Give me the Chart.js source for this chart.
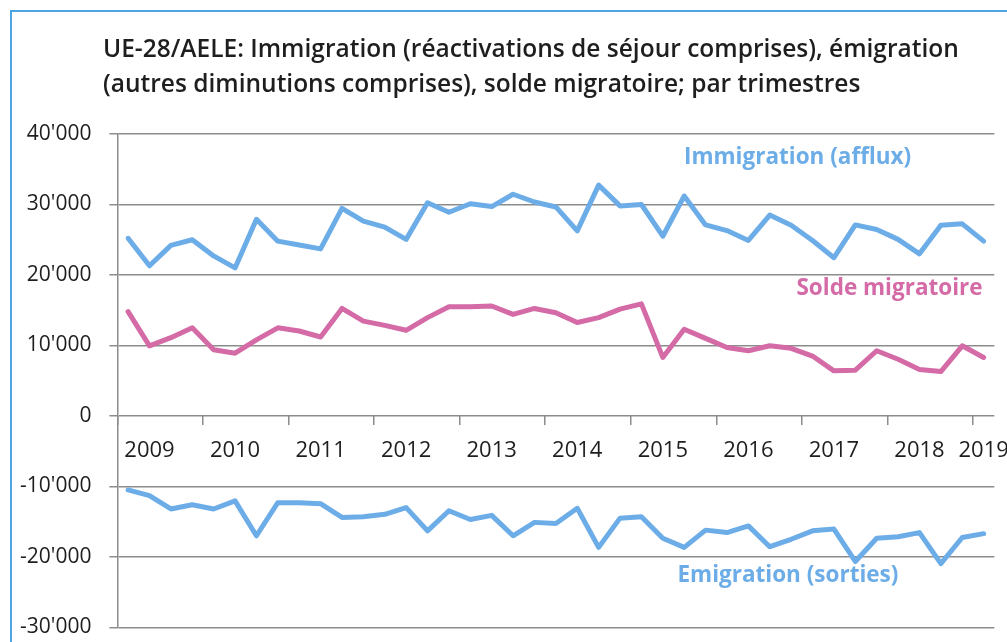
<!DOCTYPE html>
<html>
<head>
<meta charset="utf-8">
<script src="https://cdn.jsdelivr.net/npm/chart.js@4"></script>
<style>
  body { margin: 0; background: #fff; }
  #wrap { position: relative; width: 1007px; height: 642px; overflow: hidden; }
  #frame { position: absolute; left: 10px; top: 10px; right: -5px; bottom: -5px;
           border-top: 2px solid #4ea3e3; border-left: 2px solid #4ea3e3; z-index: 2; }
  #titre { position: absolute; left: 103px; top: 30px; font-family: "Open Sans", sans-serif;
           font-weight: 600; font-size: 24.5px; line-height: 35px; color: #1e1e1e; white-space: nowrap; }
  #c { position: absolute; left: 0; top: 0; }
</style>
</head>
<body>
<div id="wrap">
  <div id="frame"></div>
  <canvas id="c" width="1022" height="658"></canvas>
  <div id="titre">UE-28/AELE: Immigration (réactivations de séjour comprises), émigration<br>(autres diminutions comprises), solde migratoire; par trimestres</div>
</div>
<script>
// trimestres 2009 T1 - 2019 T1
const annees = [2009, 2010, 2011, 2012, 2013, 2014, 2015, 2016, 2017, 2018, 2019];
const trimestres = [];
annees.forEach(function (a) {
  for (let q = 1; q <= 4; q++) {
    if (a === 2019 && q > 1) break;
    trimestres.push(a + " T" + q);
  }
});

const immigration = [
  25200, 21300, 24200, 25000, 22700, 21000, 27900, 24800, 24250, 23700,
  29450, 27650, 26800, 25050, 30250, 28900, 30100, 29700, 31450, 30350,
  29650, 26250, 32750, 29800, 30000, 25500, 31200, 27100, 26300, 24900,
  28500, 27050, 24900, 22450, 27100, 26450, 25050, 23000, 27050, 27250,
  24800
];
const solde = [
  14800, 9950, 11100, 12500, 9400, 8900, 10800, 12500, 12050, 11200,
  15250, 13450, 12850, 12150, 13950, 15500, 15500, 15600, 14400, 15250,
  14650, 13250, 13950, 15150, 15900, 8300, 12300, 11000, 9700, 9250,
  9950, 9600, 8500, 6400, 6500, 9250, 8050, 6600, 6300, 9950,
  8300
];
const emigration = [
  -10500, -11300, -13200, -12600, -13200, -12050, -17000, -12300, -12300, -12450,
  -14400, -14300, -13950, -13000, -16300, -13450, -14700, -14100, -17000, -15100,
  -15250, -13100, -18650, -14500, -14300, -17350, -18650, -16200, -16550, -15600,
  -18550, -17500, -16300, -16050, -20650, -17350, -17150, -16550, -20950, -17250,
  -16700
];

const bleu = "#6cade8";
const rose = "#d46aa6";

// étiquettes des séries, placées dans le repère du graphique
const etiquettes = [
  { texte: "Immigration (afflux)", couleur: bleu, x: 31.3, y: 36700 },
  { texte: "Solde migratoire", couleur: rose, x: 35.6, y: 18000 },
  { texte: "Emigration (sorties)", couleur: bleu, x: 30.85, y: -22700 }
];

const pluginEtiquettes = {
  id: "etiquettes",
  afterDatasetsDraw: function (chart) {
    const ctx = chart.ctx;
    const sx = chart.scales.x;
    const sy = chart.scales.y;
    ctx.save();
    ctx.font = "bold 22.5px 'Open Sans'";
    ctx.textAlign = "center";
    ctx.textBaseline = "middle";
    etiquettes.forEach(function (e) {
      ctx.fillStyle = e.couleur;
      ctx.fillText(e.texte, sx.getPixelForValue(e.x), sy.getPixelForValue(e.y));
    });
    ctx.restore();
  }
};

const gris = "#8c8c8c";

new Chart(document.getElementById("c"), {
  type: "line",
  data: {
    labels: trimestres,
    datasets: [
      { label: "Immigration (afflux)", data: immigration, borderColor: bleu },
      { label: "Solde migratoire", data: solde, borderColor: rose },
      { label: "Emigration (sorties)", data: emigration, borderColor: bleu }
    ]
  },
  options: {
    responsive: false,
    animation: false,
    layout: { padding: { top: 134, left: 2, right: 17, bottom: 4 } },
    elements: {
      line: { borderWidth: 5, tension: 0, borderJoinStyle: "round", borderCapStyle: "round", fill: false },
      point: { radius: 0 }
    },
    plugins: {
      legend: { display: false },
      tooltip: { enabled: false }
    },
    scales: {
      x: {
        position: { y: 0 },
        offset: true,
        grid: {
          offset: true,
          drawOnChartArea: false,
          drawTicks: true,
          tickLength: 9,
          lineWidth: 1.5,
          color: function (c) { return c.index % 4 === 0 ? gris : "rgba(0,0,0,0)"; }
        },
        border: { display: false },
        ticks: {
          autoSkip: false,
          maxRotation: 0,
          padding: 13,
          color: "#1e1e1e",
          font: { family: "Open Sans", size: 22 },
          callback: function (v, i) {
            const lab = trimestres[i];
            if (lab.endsWith("T2") || lab === "2019 T1") return lab.slice(0, 4);
            return "";
          }
        }
      },
      y: {
        min: -30000,
        max: 40000,
        grid: { color: gris, lineWidth: 1.5, tickLength: 8 },
        border: { color: gris, width: 1.5 },
        ticks: {
          stepSize: 10000,
          padding: 18,
          color: "#1e1e1e",
          font: { family: "Open Sans", size: 21 },
          callback: function (v) {
            const s = Math.abs(v).toString();
            const f = s.length > 3 ? s.slice(0, s.length - 3) + "'" + s.slice(-3) : s;
            return (v < 0 ? "-" : "") + f;
          }
        }
      }
    }
  },
  plugins: [pluginEtiquettes]
});
</script>
</body>
</html>
